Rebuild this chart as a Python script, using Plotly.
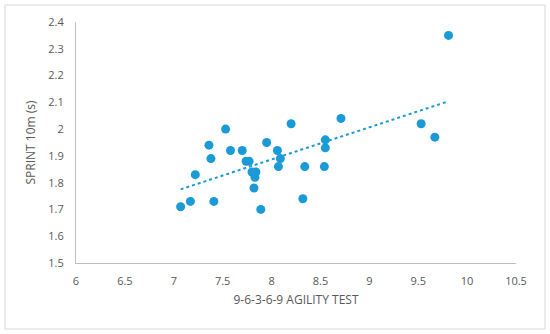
import numpy as np
import plotly.graph_objects as go

agility = [7.07, 7.17, 7.22, 7.36, 7.38, 7.41, 7.53, 7.58, 7.70, 7.74, 7.77, 7.80, 7.82, 7.83, 7.84,
           7.89, 7.95, 8.06, 8.07, 8.09, 8.20, 8.32, 8.34, 8.54, 8.55, 8.55, 8.71, 9.53, 9.67, 9.81]
sprint = [1.71, 1.73, 1.83, 1.94, 1.89, 1.73, 2.00, 1.92, 1.92, 1.88, 1.88, 1.84, 1.78, 1.82, 1.84,
          1.70, 1.95, 1.92, 1.86, 1.89, 2.02, 1.74, 1.86, 1.86, 1.93, 1.96, 2.04, 2.02, 1.97, 2.35]

x_ticks = [6, 6.5, 7, 7.5, 8, 8.5, 9, 9.5, 10, 10.5]
y_ticks = [1.5, 1.6, 1.7, 1.8, 1.9, 2.0, 2.1, 2.2, 2.3, 2.4]
y_labels = ["1.5", "1.6", "1.7", "1.8", "1.9", "2", "2.1", "2.2", "2.3", "2.4"]

color = "#1a9ad6"
grey = "#595959"

slope, intercept = np.polyfit(agility, sprint, 1)
tx = [min(agility), max(agility)]
ty = [slope * v + intercept for v in tx]

fig = go.Figure()
fig.add_trace(go.Scatter(x=tx, y=ty, mode="lines",
                         line=dict(color=color, width=2, dash="dot"), hoverinfo="skip"))
fig.add_trace(go.Scatter(x=agility, y=sprint, mode="markers",
                         marker=dict(color=color, size=9)))

fig.update_layout(
    width=550, height=334,
    margin=dict(l=76, r=34, t=22, b=71),
    paper_bgcolor="white", plot_bgcolor="white",
    showlegend=False,
    font=dict(family="Open Sans, Liberation Sans, sans-serif", size=11, color=grey),
    xaxis=dict(range=[6, 10.5], tickvals=x_ticks, ticktext=[f"{v:g}" for v in x_ticks],
               showgrid=False, zeroline=False, showline=True, linecolor="#bfbfbf", linewidth=1,
               ticks="", ticklabelstandoff=8,
               title=dict(text="9-6-3-6-9 AGILITY TEST", standoff=8,
                          font=dict(size=12, color=grey))),
    yaxis=dict(range=[1.5, 2.4], tickvals=y_ticks, ticktext=y_labels,
               showgrid=False, zeroline=False, showline=True, linecolor="#bfbfbf", linewidth=1,
               ticks="", ticklabelstandoff=9,
               title=dict(text="SPRINT 10m (s)", standoff=10,
                          font=dict(size=12, color=grey))),
    shapes=[dict(type="rect", xref="paper", yref="paper",
                 x0=-0.1614, x1=1.0659, y0=-0.2739, y1=1.0705,
                 line=dict(color="#d9d9d9", width=1), fillcolor="rgba(0,0,0,0)", layer="below")],
)

fig.write_html("out.html", config={"displayModeBar": False},
               post_script="document.body.style.margin='0';")
